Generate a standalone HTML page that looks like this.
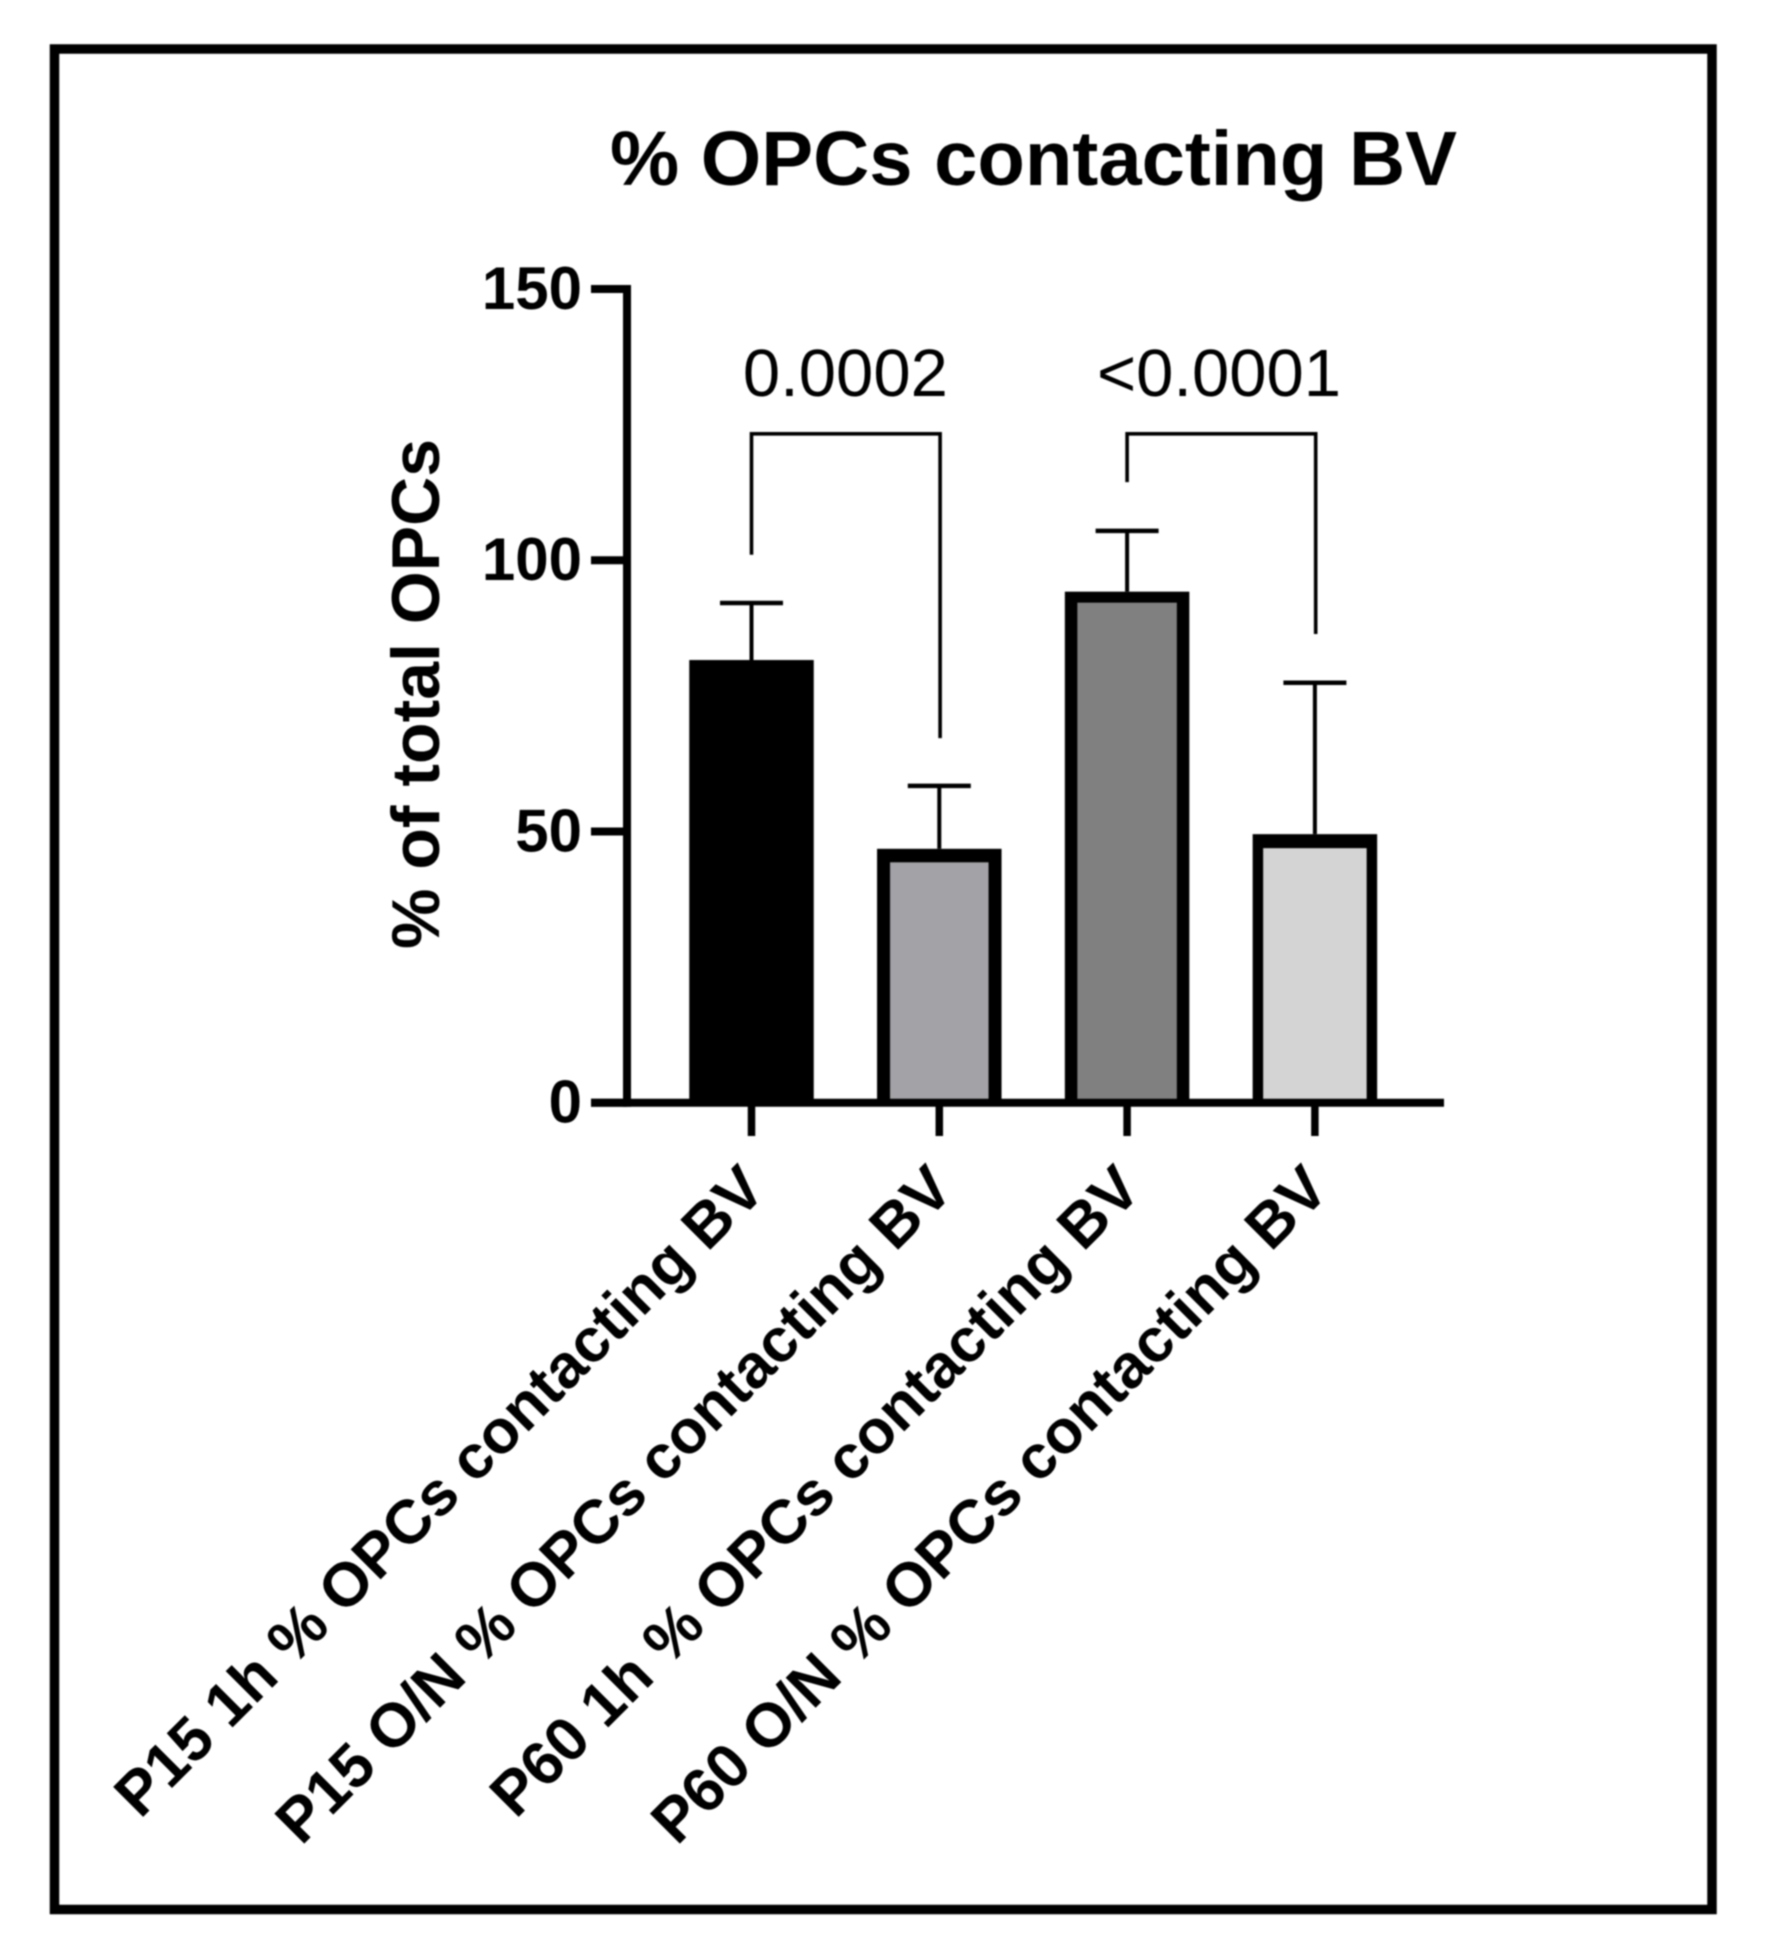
<!DOCTYPE html>
<html lang="en">
<head>
<meta charset="utf-8">
<title>% OPCs contacting BV</title>
<style>
html,body{margin:0;padding:0;background:#fff;}
svg{display:block;filter:blur(0.7px);}
text{font-family:"Liberation Sans",Arial,sans-serif;fill:#000;}
</style>
</head>
<body>
<svg id="chart" xmlns="http://www.w3.org/2000/svg" width="1787" height="1956" viewBox="0 0 1787 1956">
<rect x="0" y="0" width="1787" height="1956" fill="#fff"/>
<rect x="54.5" y="49" width="1657.5" height="1860.5" fill="none" stroke="#000" stroke-width="9.5"/>
<text x="610" y="185" font-size="77" font-weight="700" textLength="847" lengthAdjust="spacingAndGlyphs">% OPCs contacting BV</text>
<text transform="translate(439,694) rotate(-90)" text-anchor="middle" font-size="68" font-weight="700">% of total OPCs</text>
</svg>
<script>
const categories = ["P15 1h % OPCs contacting BV", "P15 O/N % OPCs contacting BV", "P60 1h % OPCs contacting BV", "P60 O/N % OPCs contacting BV"];
const barValues = [81.6, 46.8, 94.2, 49.5];
const errorValues = [10.5, 11.6, 11.2, 27.9];
const yTicks = [0, 50, 100, 150];
const pLabels = ["0.0002", "<0.0001"];
const bracketFrom = [0, 2];
const bracketTo = [1, 3];
const bracketTop = [123.3, 123.3];
const bracketFromEnd = [101, 114.4];
const bracketToEnd = [67.2, 86.4];

const barFills = ["#000000", "#a3a2a6", "#808080", "#d4d4d4"];
const barSideBorder = [13, 13, 12.5, 10.5];
const barTopBorder = [13, 13.5, 11, 14];

const svg = document.getElementById('chart');
const NS = 'http://www.w3.org/2000/svg';

function yScale(v) { return 1102.7 - 5.425 * v; }
function xCenter(i) { return 751.5 + 187.8 * i; }

function line(x1, y1, x2, y2, w) {
  const el = document.createElementNS(NS, 'line');
  el.setAttribute('x1', x1);
  el.setAttribute('y1', y1);
  el.setAttribute('x2', x2);
  el.setAttribute('y2', y2);
  el.setAttribute('stroke', '#000');
  el.setAttribute('stroke-width', w);
  svg.appendChild(el);
  return el;
}
function rect(x, y, w, h, fill) {
  const el = document.createElementNS(NS, 'rect');
  el.setAttribute('x', x);
  el.setAttribute('y', y);
  el.setAttribute('width', w);
  el.setAttribute('height', h);
  el.setAttribute('fill', fill);
  svg.appendChild(el);
  return el;
}
function label(str, x, y, size, weight, anchor) {
  const el = document.createElementNS(NS, 'text');
  el.setAttribute('x', x);
  el.setAttribute('y', y);
  el.setAttribute('font-size', size);
  el.setAttribute('font-weight', weight);
  el.setAttribute('text-anchor', anchor);
  el.textContent = str;
  svg.appendChild(el);
  return el;
}

const barWidth = 124.5;
const base = yScale(0);

barValues.forEach(function (v, i) {
  const cx = xCenter(i);
  const top = yScale(v);
  const errTop = yScale(v + errorValues[i]);

  const stem = line(cx, errTop, cx, top, 4);
  
  

  const cap = line(cx - 31.5, errTop, cx + 31.5, errTop, 4.5);
  
  

  const outer = rect(cx - barWidth / 2, top, barWidth, base - top, '#000');
  
  

  const side = barSideBorder[i];
  const topB = barTopBorder[i];
  const inner = rect(cx - barWidth / 2 + side, top + topB, barWidth - 2 * side, base - top - topB, barFills[i]);
  
  
});

const yAxis = line(627, yScale(150) - 4, 627, base + 4, 8);



const xAxis = line(591, base, 1444, base, 8);



yTicks.forEach(function (t) {
  const y = yScale(t);
  const tick = line(591, y, 627, y, 8);
  
  

  const txt = label(String(t), 582, y + 20, 60, 700, 'end');
  
  
});

categories.forEach(function (c, i) {
  const cx = xCenter(i);
  const tick = line(cx, base, cx, 1136, 7.5);
  
  

  const ex = cx + 16.5;
  const ey = 1192;
  const txt = label(c, ex, ey, 61.7, 700, 'end');
  txt.setAttribute('transform', 'rotate(-45 ' + ex + ' ' + ey + ')');
  
  
});

pLabels.forEach(function (p, k) {
  const xa = xCenter(bracketFrom[k]);
  const xb = xCenter(bracketTo[k]);
  const yt = yScale(bracketTop[k]);
  const path = document.createElementNS(NS, 'path');
  path.setAttribute('d', 'M' + xa + ' ' + yScale(bracketFromEnd[k]) + 'V' + yt + 'H' + (xb + 0.8) + 'V' + yScale(bracketToEnd[k]));
  path.setAttribute('fill', 'none');
  path.setAttribute('stroke', '#000');
  path.setAttribute('stroke-width', 3.6);
  
  
  svg.appendChild(path);

  const txt = label(p, (xa + xb) / 2 - 2 * k, yt - 38, 67, 400, 'middle');
  
  
});
</script>
</body>
</html>
